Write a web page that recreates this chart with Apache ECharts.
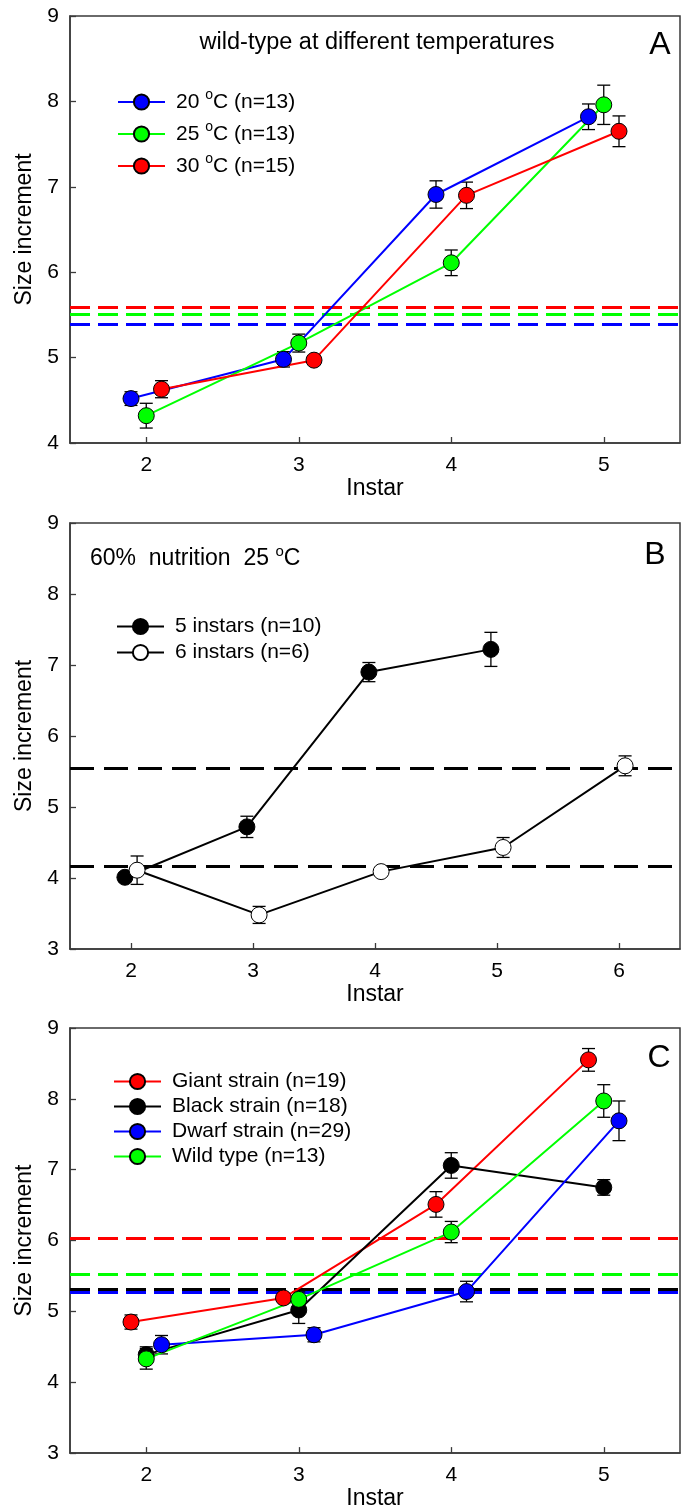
<!DOCTYPE html>
<html>
<head>
<meta charset="utf-8">
<script src="https://cdn.jsdelivr.net/npm/echarts@6/dist/echarts.min.js"></script>
<style>
html,body{margin:0;padding:0;background:#fff;}
#chart{width:681px;height:1511px;}
</style>
</head>
<body>
<div id="chart"></div>
<script>
// ---------- DATA ----------
const instars5 = [2, 3, 4, 5];
const instars6 = [2, 3, 4, 5, 6];
const xTicksAC = [2, 3, 4, 5];
const xTicksB = [2, 3, 4, 5, 6];

// Panel A: wild-type at different temperatures
const a20 = [4.52, 4.98, 6.91, 7.82];
const a20err = [0.08, 0.09, 0.16, 0.15];
const a25 = [4.32, 5.17, 6.11, 7.96];
const a25err = [0.145, 0.105, 0.15, 0.23];
const a30 = [4.63, 4.97, 6.90, 7.65];
const a30err = [0.10, 0.05, 0.155, 0.18];
const refA = [5.39, 5.515, 5.59]; // 20, 25, 30 C

// Panel B: 60% nutrition 25 C
const b5 = [4.01, 4.72, 6.90, 7.22];
const b5err = [0.06, 0.15, 0.135, 0.24];
const b6 = [4.11, 3.48, 4.09, 4.43, 5.58];
const b6err = [0.20, 0.12, 0.05, 0.14, 0.14];
const refB = [5.55, 4.16]; // 5 instars, 6 instars

// Panel C: strains
const cGiant = [4.85, 5.19, 6.51, 8.55];
const cGiantErr = [0.10, 0.05, 0.18, 0.16];
const cBlack = [4.39, 5.02, 7.06, 6.75];
const cBlackErr = [0.11, 0.19, 0.18, 0.11];
const cDwarf = [4.53, 4.67, 5.28, 7.69];
const cDwarfErr = [0.13, 0.10, 0.145, 0.28];
const cWild = [4.33, 5.17, 6.12, 7.97];
const cWildErr = [0.145, 0.105, 0.15, 0.23];
const refC = [6.03, 5.31, 5.27, 5.52]; // giant, black, dwarf, wild

// ---------- STYLE ----------
const FONT = 'Liberation Sans, Arial, sans-serif';
const AX = '#3a3a3a';
const SYM = 16;

function lineSeries(name, gi, xs, off, ys, color, fill, ref, dash, dashW, dashColor) {
  return {
    name: name, type: 'line', xAxisIndex: gi, yAxisIndex: gi, z: 4,
    data: ys.map((v, i) => [xs[i] + off, v]),
    symbol: 'circle', symbolSize: SYM, showSymbol: true,
    lineStyle: {color: color, width: 2},
    itemStyle: {color: fill, borderColor: '#000', borderWidth: 1},
    emphasis: {disabled: true},
    markLine: {
      silent: true, symbol: 'none', label: {show: false}, z: 2,
      lineStyle: {color: dashColor || color, type: dash, width: dashW, opacity: 1},
      emphasis: {disabled: true},
      data: [{yAxis: ref}]
    }
  };
}

function errSeries(gi, xs, off, ys, errs) {
  return {
    type: 'custom', xAxisIndex: gi, yAxisIndex: gi, z: 3, silent: true,
    data: ys.map((v, i) => [xs[i] + off, v, errs[i]]),
    encode: {x: 0, y: 1},
    renderItem: function (params, api) {
      const x = api.value(0), y = api.value(1), e = api.value(2);
      const t = api.coord([x, y + e]), b = api.coord([x, y - e]);
      const hw = 6.5;
      const st = {stroke: '#000', lineWidth: 1.3};
      return {type: 'group', children: [
        {type: 'line', shape: {x1: t[0], y1: t[1], x2: b[0], y2: b[1]}, style: st},
        {type: 'line', shape: {x1: t[0] - hw, y1: t[1], x2: t[0] + hw, y2: t[1]}, style: st},
        {type: 'line', shape: {x1: b[0] - hw, y1: b[1], x2: b[0] + hw, y2: b[1]}, style: st}
      ]};
    }
  };
}

function xAxis(gi, max, ticks) {
  return {
    type: 'value', gridIndex: gi, min: 1.5, max: max,
    name: 'Instar', nameLocation: 'middle', nameGap: 24,
    nameTextStyle: {fontSize: 23, fontFamily: FONT, color: '#000'},
    axisLine: {show: true, lineStyle: {color: AX, width: 1.5}},
    axisTick: {show: true, inside: true, length: 6, customValues: ticks, lineStyle: {color: AX, width: 1.3}},
    axisLabel: {fontSize: 21, fontFamily: FONT, color: '#000', margin: 12, customValues: ticks},
    splitLine: {show: false}
  };
}
function yAxis(gi, min) {
  return {
    type: 'value', gridIndex: gi, min: min, max: 9, interval: 1,
    name: 'Size increment', nameLocation: 'middle', nameGap: 31,
    nameTextStyle: {fontSize: 23, fontFamily: FONT, color: '#000'},
    axisLine: {show: true, lineStyle: {color: AX, width: 1.5}},
    axisTick: {show: true, inside: true, length: 6, lineStyle: {color: AX, width: 1.3}},
    axisLabel: {fontSize: 21, fontFamily: FONT, color: '#000', margin: 11},
    splitLine: {show: false}
  };
}

const sup = {sup: {fontSize: 14, verticalAlign: 'top', lineHeight: 9, fontFamily: FONT, color: '#000'}};
function legend(names, left, top, gap, lh) {
  const ts = {fontSize: 21, fontFamily: FONT, color: '#000', padding: [0, 0, 0, 6], rich: sup};
  if (lh) ts.lineHeight = lh;
  return {
    data: names, orient: 'vertical', left: left, top: top, padding: 0,
    itemWidth: 47, itemHeight: 19, itemGap: gap,
    selectedMode: false,
    formatter: n => n.replace(' °C', ' {sup|o}C'),
    textStyle: ts
  };
}

const nA = ['20 °C (n=13)', '25 °C (n=13)', '30 °C (n=15)'];
const nB = ['5 instars (n=10)', '6 instars (n=6)'];
const nC = ['Giant strain (n=19)', 'Black strain (n=18)', 'Dwarf strain (n=29)', 'Wild type (n=13)'];
const dashAC = [20, 8];

const option = {
  animation: false,
  backgroundColor: '#fff',
  grid: [
    {left: 70, top: 16, width: 610, height: 427, show: true, borderColor: AX, borderWidth: 1.5, containLabel: false},
    {left: 70, top: 523, width: 610, height: 426, show: true, borderColor: AX, borderWidth: 1.5, containLabel: false},
    {left: 70, top: 1028, width: 610, height: 428, show: true, borderColor: AX, borderWidth: 1.5, containLabel: false}
  ],
  xAxis: [xAxis(0, 5.5, xTicksAC), xAxis(1, 6.5, xTicksB), xAxis(2, 5.5, xTicksAC)],
  yAxis: [yAxis(0, 4), yAxis(1, 3), yAxis(2, 3)],
  legend: [legend(nA, 117, 88, 4, 28), legend(nB, 116, 616, 5), legend(nC, 113, 1071, 4)],
  graphic: [
    {type: 'text', x: 377, y: 43, style: {text: 'wild-type at different temperatures', align: 'center', verticalAlign: 'middle', fontSize: 23.5, fontFamily: FONT, fill: '#000'}},
    {type: 'text', x: 660, y: 45, style: {text: 'A', align: 'center', verticalAlign: 'middle', fontSize: 32, fontFamily: FONT, fill: '#000'}},
    {type: 'text', x: 90, y: 559, style: {text: '60%  nutrition  25 {sup|o}C', align: 'left', verticalAlign: 'middle', lineHeight: 29, fontSize: 23, fontFamily: FONT, fill: '#000', rich: {sup: {fontSize: 15, verticalAlign: 'top', lineHeight: 9, fontFamily: FONT, fill: '#000'}}}},
    {type: 'text', x: 655, y: 555, style: {text: 'B', align: 'center', verticalAlign: 'middle', fontSize: 32, fontFamily: FONT, fill: '#000'}},
    {type: 'text', x: 659, y: 1058, style: {text: 'C', align: 'center', verticalAlign: 'middle', fontSize: 32, fontFamily: FONT, fill: '#000'}}
  ],
  series: [
    errSeries(0, instars5, -0.1, a20, a20err),
    errSeries(0, instars5, 0, a25, a25err),
    errSeries(0, instars5, 0.1, a30, a30err),
    lineSeries(nA[0], 0, instars5, -0.1, a20, '#0000ff', '#0000ff', refA[0], dashAC, 3),
    lineSeries(nA[1], 0, instars5, 0, a25, '#00ff00', '#00ff00', refA[1], dashAC, 3),
    lineSeries(nA[2], 0, instars5, 0.1, a30, '#ff0000', '#ff0000', refA[2], dashAC, 3),

    errSeries(1, instars5, -0.05, b5, b5err),
    errSeries(1, instars6, 0.05, b6, b6err),
    lineSeries(nB[0], 1, instars5, -0.05, b5, '#000', '#000', refB[0], [24, 10], 3),
    lineSeries(nB[1], 1, instars6, 0.05, b6, '#000', '#fff', refB[1], [24, 10], 3),

    errSeries(2, instars5, -0.1, cGiant, cGiantErr),
    errSeries(2, instars5, 0, cBlack, cBlackErr),
    errSeries(2, instars5, 0.1, cDwarf, cDwarfErr),
    errSeries(2, instars5, 0, cWild, cWildErr),
    lineSeries(nC[0], 2, instars5, -0.1, cGiant, '#ff0000', '#ff0000', refC[0], dashAC, 3),
    lineSeries(nC[1], 2, instars5, 0, cBlack, '#000', '#000', refC[1], dashAC, 3),
    lineSeries(nC[2], 2, instars5, 0.1, cDwarf, '#0000ff', '#0000ff', refC[2], dashAC, 3),
    lineSeries(nC[3], 2, instars5, 0, cWild, '#00ff00', '#00ff00', refC[3], dashAC, 3)
  ]
};

const chart = echarts.init(document.getElementById('chart'), null, {renderer: 'canvas'});
chart.setOption(option);
</script>
</body>
</html>
